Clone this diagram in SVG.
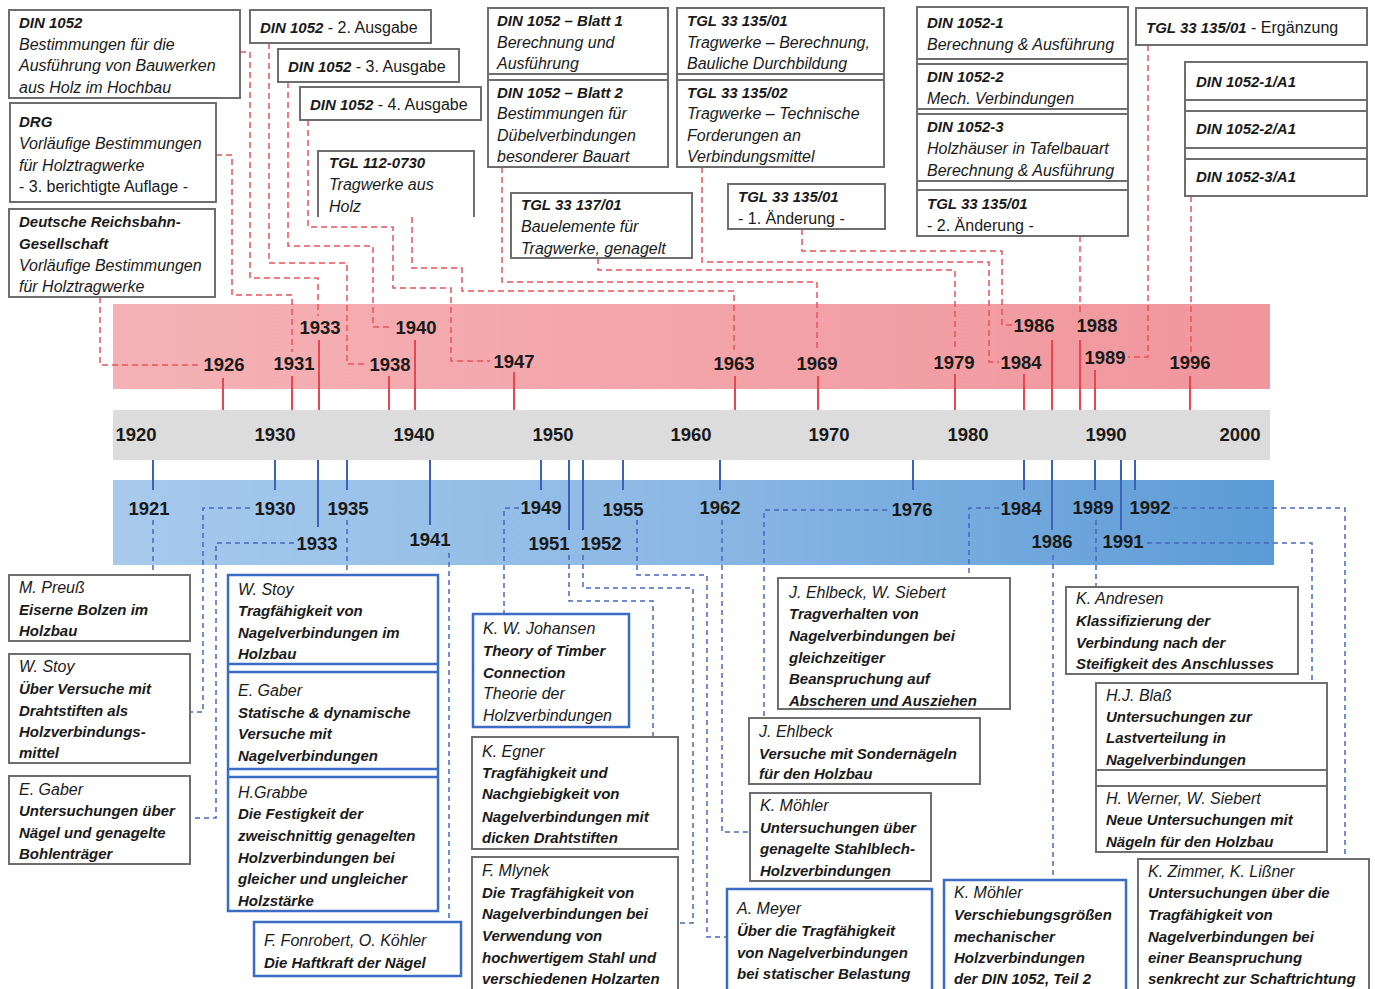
<svg xmlns="http://www.w3.org/2000/svg" width="1375" height="989" viewBox="0 0 1375 989">
<style>
text{font-family:"Liberation Sans",Arial,sans-serif;fill:#1a1a1a}
.box{fill:#fff;stroke:#6e6e6e;stroke-width:2}
.bbox{fill:#fff;stroke:#3a6cc6;stroke-width:2.5}
.div{stroke:#6e6e6e;stroke-width:2}
.bdiv{stroke:#3a6cc6;stroke-width:2.5}
.t{font-size:15px;font-weight:bold;font-style:italic}
.d{font-size:16px;font-style:italic}
.r{font-size:16px;font-style:normal;font-weight:normal}
.yr{font-size:18.5px;font-weight:bold;text-anchor:middle}
.rt{stroke:#e8474f;stroke-width:2}
.bt{stroke:#3b62b8;stroke-width:2}
.rc{fill:none;stroke:#e8535a;stroke-width:1.5;stroke-dasharray:6 4}
.bc{fill:none;stroke:#4568c0;stroke-width:1.5;stroke-dasharray:5 4}
</style>
<defs>
<linearGradient id="gRed" x1="0" x2="1" y1="0" y2="0"><stop offset="0" stop-color="#f5b2b6"/><stop offset="1" stop-color="#f0969c"/></linearGradient>
<linearGradient id="gBlue" x1="0" x2="1" y1="0" y2="0"><stop offset="0" stop-color="#a7caec"/><stop offset="0.5" stop-color="#8bb8e4"/><stop offset="1" stop-color="#5c9bd6"/></linearGradient>
</defs>
<rect width="1375" height="989" fill="#fff"/>
<g id="bands">
<rect x="113" y="304" width="1157" height="85" fill="url(#gRed)"/>
<rect x="113" y="410" width="1157" height="50" fill="#dcdcdc"/>
<rect x="113" y="480" width="1161" height="85" fill="url(#gBlue)"/>
</g>
<g id="ticks">
<path class="rt" d="M223,378V410M292,376V410M319,340V410M389,376V410M415,340V410M514,372V410M735,376V410M818,376V410M955,374V410M1024,374V410M1052,340V410M1080,340V410M1095,370V410M1190,376V410"/>
<path class="bt" d="M153,460V490M275,460V490M318,460V527M347,460V490M430,460V525M541,460V490M569,460V530M583,460V530M623,460V490M720,460V490M913,460V490M1024,460V490M1052,460V530M1095,460V490M1121,460V530M1135,460V490"/>
</g>
<g id="connectors">
<path class="rc" d="M100,297V365H200"/>
<path class="rc" d="M216,155H232V295H292V352"/>
<path class="rc" d="M240,52H250V278H318V316"/>
<path class="rc" d="M269,43V263H347V364H367"/>
<path class="rc" d="M288,82V246H373V327H393"/>
<path class="rc" d="M308,120V227H393V288H451V361H490"/>
<path class="rc" d="M412,217V268H462V291H734V350"/>
<path class="rc" d="M502,167V282H817V350"/>
<path class="rc" d="M598,258V270H955V350"/>
<path class="rc" d="M702,167V262H989V362H999"/>
<path class="rc" d="M802,229V251H1002V325H1013"/>
<path class="rc" d="M1080,236V316"/>
<path class="rc" d="M1148,45V357H1128"/>
<path class="rc" d="M1191,196V352"/>
<path class="bc" d="M153,520V575"/>
<path class="bc" d="M250,508H203V712H190"/>
<path class="bc" d="M294,543H216V818H190"/>
<path class="bc" d="M347,520V575"/>
<path class="bc" d="M449,553V922"/>
<path class="bc" d="M519,508H504V614"/>
<path class="bc" d="M569,555V601H653V737"/>
<path class="bc" d="M583,555V588H693V923H678"/>
<path class="bc" d="M637,520V575H707V937H727"/>
<path class="bc" d="M722,520V832H750"/>
<path class="bc" d="M887,510H764V718"/>
<path class="bc" d="M999,508H969V578"/>
<path class="bc" d="M1053,555V880"/>
<path class="bc" d="M1096,520V587"/>
<path class="bc" d="M1147,543H1312V683"/>
<path class="bc" d="M1173,508H1345V859"/>
</g>
<g id="year-labels">
<text class="yr" x="320" y="334">1933</text><text class="yr" x="416" y="334">1940</text><text class="yr" x="1034" y="332">1986</text><text class="yr" x="1097" y="332">1988</text>
<text class="yr" x="224" y="371">1926</text><text class="yr" x="294" y="370">1931</text><text class="yr" x="390" y="371">1938</text><text class="yr" x="514" y="368">1947</text><text class="yr" x="734" y="370">1963</text><text class="yr" x="817" y="370">1969</text><text class="yr" x="954" y="369">1979</text><text class="yr" x="1021" y="369">1984</text><text class="yr" x="1105" y="364">1989</text><text class="yr" x="1190" y="369">1996</text>
<text class="yr" x="136" y="441">1920</text><text class="yr" x="275" y="441">1930</text><text class="yr" x="414" y="441">1940</text><text class="yr" x="553" y="441">1950</text><text class="yr" x="691" y="441">1960</text><text class="yr" x="829" y="441">1970</text><text class="yr" x="968" y="441">1980</text><text class="yr" x="1106" y="441">1990</text><text class="yr" x="1240" y="441">2000</text>
<text class="yr" x="149" y="515">1921</text><text class="yr" x="275" y="515">1930</text><text class="yr" x="348" y="515">1935</text><text class="yr" x="541" y="514">1949</text><text class="yr" x="623" y="516">1955</text><text class="yr" x="720" y="514">1962</text><text class="yr" x="912" y="516">1976</text><text class="yr" x="1021" y="515">1984</text><text class="yr" x="1093" y="514">1989</text><text class="yr" x="1150" y="514">1992</text>
<text class="yr" x="317" y="550">1933</text><text class="yr" x="430" y="546">1941</text><text class="yr" x="549" y="550">1951</text><text class="yr" x="601" y="550">1952</text><text class="yr" x="1052" y="548">1986</text><text class="yr" x="1123" y="548">1991</text>
</g>
<g id="n-din1052">
<rect class="box" x="9" y="10" width="231" height="88"/>
<text class="t" x="19" y="28">DIN 1052</text><text class="d" x="19" y="50">Bestimmungen für die</text><text class="d" x="19" y="71">Ausführung von Bauwerken</text><text class="d" x="19" y="93">aus Holz im Hochbau</text>
</g>
<g id="n-din1052-2">
<rect class="box" x="250" y="10" width="181" height="33"/>
<text x="260" y="33"><tspan class="t">DIN 1052</tspan><tspan class="r"> - 2. Ausgabe</tspan></text>
</g>
<g id="n-din1052-3">
<rect class="box" x="278" y="49" width="181" height="33"/>
<text x="288" y="72"><tspan class="t">DIN 1052</tspan><tspan class="r"> - 3. Ausgabe</tspan></text>
</g>
<g id="n-din1052-4">
<rect class="box" x="300" y="87" width="181" height="33"/>
<text x="310" y="110"><tspan class="t">DIN 1052</tspan><tspan class="r"> - 4. Ausgabe</tspan></text>
</g>
<g id="n-drg">
<rect class="box" x="10" y="103" width="206" height="99"/>
<text class="t" x="19" y="127">DRG</text><text class="d" x="19" y="149">Vorläufige Bestimmungen</text><text class="d" x="19" y="171">für Holztragwerke</text><text class="r" x="19" y="192">- 3. berichtigte Auflage -</text>
</g>
<g id="n-drg-1926">
<rect class="box" x="9" y="209" width="206" height="88"/>
<text class="t" x="19" y="227">Deutsche Reichsbahn-</text><text class="t" x="19" y="249">Gesellschaft</text><text class="d" x="19" y="271">Vorläufige Bestimmungen</text><text class="d" x="19" y="292">für Holztragwerke</text>
</g>
<g id="n-tgl112">
<path class="box" d="M318,217V151H474V217"/>
<text class="t" x="329" y="168">TGL 112-0730</text><text class="d" x="329" y="190">Tragwerke aus</text><text class="d" x="329" y="212">Holz</text>
</g>
<g id="n-blatt">
<rect class="box" x="488" y="8" width="180" height="159"/>
<path class="div" d="M488,74H668M488,80H668"/>
<text class="t" x="497" y="26">DIN 1052 – Blatt 1</text><text class="d" x="497" y="48">Berechnung und</text><text class="d" x="497" y="69">Ausführung</text>
<text class="t" x="497" y="98">DIN 1052 – Blatt 2</text><text class="d" x="497" y="119">Bestimmungen für</text><text class="d" x="497" y="141">Dübelverbindungen</text><text class="d" x="497" y="162">besonderer Bauart</text>
</g>
<g id="n-tgl33135">
<rect class="box" x="677" y="8" width="207" height="159"/>
<path class="div" d="M677,74H884M677,80H884"/>
<text class="t" x="687" y="26">TGL 33 135/01</text><text class="d" x="687" y="48">Tragwerke – Berechnung,</text><text class="d" x="687" y="69">Bauliche Durchbildung</text>
<text class="t" x="687" y="98">TGL 33 135/02</text><text class="d" x="687" y="119">Tragwerke – Technische</text><text class="d" x="687" y="141">Forderungen an</text><text class="d" x="687" y="162">Verbindungsmittel</text>
</g>
<g id="n-tgl33137">
<rect class="box" x="511" y="193" width="181" height="65"/>
<text class="t" x="521" y="210">TGL 33 137/01</text><text class="d" x="521" y="232">Bauelemente für</text><text class="d" x="521" y="254">Tragwerke, genagelt</text>
</g>
<g id="n-tgl-aend1">
<rect class="box" x="728" y="184" width="157" height="45"/>
<text class="t" x="738" y="202">TGL 33 135/01</text><text class="r" x="738" y="224">- 1. Änderung -</text>
</g>
<g id="n-din1052-1988">
<rect class="box" x="917" y="7" width="211" height="229"/>
<path class="div" d="M917,59H1128M917,64H1128M917,109H1128M917,114H1128M917,181H1128M917,190H1128"/>
<text class="t" x="927" y="28">DIN 1052-1</text><text class="d" x="927" y="50">Berechnung &amp; Ausführung</text>
<text class="t" x="927" y="82">DIN 1052-2</text><text class="d" x="927" y="104">Mech. Verbindungen</text>
<text class="t" x="927" y="132">DIN 1052-3</text><text class="d" x="927" y="154">Holzhäuser in Tafelbauart</text><text class="d" x="927" y="176">Berechnung &amp; Ausführung</text>
<text class="t" x="927" y="209">TGL 33 135/01</text><text class="r" x="927" y="231">- 2. Änderung -</text>
</g>
<g id="n-tgl-erg">
<rect class="box" x="1136" y="8" width="231" height="37"/>
<text x="1146" y="33"><tspan class="t">TGL 33 135/01</tspan><tspan class="r"> - Ergänzung</tspan></text>
</g>
<g id="n-din-a1">
<rect class="box" x="1185" y="62" width="182" height="134"/>
<path class="div" d="M1185,100H1367M1185,111H1367M1185,148H1367M1185,159H1367"/>
<text class="t" x="1196" y="87">DIN 1052-1/A1</text><text class="t" x="1196" y="134">DIN 1052-2/A1</text><text class="t" x="1196" y="182">DIN 1052-3/A1</text>
</g>
<g id="n-preuss">
<rect class="box" x="9" y="575" width="181" height="66"/>
<text class="d" x="19" y="593">M. Preuß</text><text class="t" x="19" y="615">Eiserne Bolzen im</text><text class="t" x="19" y="636">Holzbau</text>
</g>
<g id="n-stoy1930">
<rect class="box" x="9" y="654" width="181" height="109"/>
<text class="d" x="19" y="672">W. Stoy</text><text class="t" x="19" y="694">Über Versuche mit</text><text class="t" x="19" y="716">Drahtstiften als</text><text class="t" x="19" y="737">Holzverbindungs-</text><text class="t" x="19" y="758">mittel</text>
</g>
<g id="n-gaber1933">
<rect class="box" x="9" y="776" width="181" height="88"/>
<text class="d" x="19" y="795">E. Gaber</text><text class="t" x="19" y="816">Untersuchungen über</text><text class="t" x="19" y="838">Nägel und genagelte</text><text class="t" x="19" y="859">Bohlenträger</text>
</g>
<g id="n-stack1935">
<rect class="bbox" x="228" y="575" width="210" height="336"/>
<path class="bdiv" d="M228,664H438M228,672H438M228,769H438M228,777H438"/>
<text class="d" x="238" y="595">W. Stoy</text><text class="t" x="238" y="616">Tragfähigkeit von</text><text class="t" x="238" y="638">Nagelverbindungen im</text><text class="t" x="238" y="659">Holzbau</text>
<text class="d" x="238" y="696">E. Gaber</text><text class="t" x="238" y="718">Statische &amp; dynamische</text><text class="t" x="238" y="739">Versuche mit</text><text class="t" x="238" y="761">Nagelverbindungen</text>
<text class="d" x="238" y="798">H.Grabbe</text><text class="t" x="238" y="819">Die Festigkeit der</text><text class="t" x="238" y="841">zweischnittig genagelten</text><text class="t" x="238" y="863">Holzverbindungen bei</text><text class="t" x="238" y="884">gleicher und ungleicher</text><text class="t" x="238" y="906">Holzstärke</text>
</g>
<g id="n-fonrobert">
<rect class="bbox" x="254" y="922" width="207" height="54"/>
<text class="d" x="264" y="946">F. Fonrobert, O. Köhler</text><text class="t" x="264" y="968">Die Haftkraft der Nägel</text>
</g>
<g id="n-johansen">
<rect class="bbox" x="473" y="614" width="156" height="113"/>
<text class="d" x="483" y="634">K. W. Johansen</text><text class="t" x="483" y="656">Theory of Timber</text><text class="t" x="483" y="678">Connection</text><text class="d" x="483" y="699">Theorie der</text><text class="d" x="483" y="721">Holzverbindungen</text>
</g>
<g id="n-egner">
<rect class="box" x="472" y="737" width="206" height="112"/>
<text class="d" x="482" y="757">K. Egner</text><text class="t" x="482" y="778">Tragfähigkeit und</text><text class="t" x="482" y="799">Nachgiebigkeit von</text><text class="t" x="482" y="822">Nagelverbindungen mit</text><text class="t" x="482" y="843">dicken Drahtstiften</text>
</g>
<g id="n-mlynek">
<rect class="box" x="472" y="857" width="206" height="140"/>
<text class="d" x="482" y="876">F. Mlynek</text><text class="t" x="482" y="898">Die Tragfähigkeit von</text><text class="t" x="482" y="919">Nagelverbindungen bei</text><text class="t" x="482" y="941">Verwendung von</text><text class="t" x="482" y="963">hochwertigem Stahl und</text><text class="t" x="482" y="984">verschiedenen Holzarten</text>
</g>
<g id="n-ehlbeck-siebert">
<rect class="box" x="778" y="578" width="232" height="131"/>
<text class="d" x="789" y="598">J. Ehlbeck, W. Siebert</text><text class="t" x="789" y="619">Tragverhalten von</text><text class="t" x="789" y="641">Nagelverbindungen bei</text><text class="t" x="789" y="663">gleichzeitiger</text><text class="t" x="789" y="684">Beanspruchung auf</text><text class="t" x="789" y="706">Abscheren und Ausziehen</text>
</g>
<g id="n-ehlbeck">
<rect class="box" x="749" y="718" width="231" height="66"/>
<text class="d" x="759" y="737">J. Ehlbeck</text><text class="t" x="759" y="759">Versuche mit Sondernägeln</text><text class="t" x="759" y="779">für den Holzbau</text>
</g>
<g id="n-moehler1962">
<rect class="box" x="750" y="793" width="181" height="88"/>
<text class="d" x="760" y="811">K. Möhler</text><text class="t" x="760" y="833">Untersuchungen über</text><text class="t" x="760" y="854">genagelte Stahlblech-</text><text class="t" x="760" y="876">Holzverbindungen</text>
</g>
<g id="n-meyer">
<rect class="bbox" x="727" y="889" width="205" height="110"/>
<text class="d" x="737" y="914">A. Meyer</text><text class="t" x="737" y="936">Über die Tragfähigkeit</text><text class="t" x="737" y="958">von Nagelverbindungen</text><text class="t" x="737" y="979">bei statischer Belastung</text>
</g>
<g id="n-moehler1986">
<rect class="bbox" x="944" y="880" width="182" height="120"/>
<text class="d" x="954" y="898">K. Möhler</text><text class="t" x="954" y="920">Verschiebungsgrößen</text><text class="t" x="954" y="942">mechanischer</text><text class="t" x="954" y="963">Holzverbindungen</text><text class="t" x="954" y="984">der DIN 1052, Teil 2</text>
</g>
<g id="n-andresen">
<rect class="box" x="1066" y="587" width="232" height="87"/>
<text class="d" x="1076" y="604">K. Andresen</text><text class="t" x="1076" y="626">Klassifizierung der</text><text class="t" x="1076" y="648">Verbindung nach der</text><text class="t" x="1076" y="669">Steifigkeit des Anschlusses</text>
</g>
<g id="n-blass-werner">
<rect class="box" x="1096" y="683" width="231" height="169"/>
<path class="div" d="M1096,770H1327M1096,786H1327"/>
<text class="d" x="1106" y="701">H.J. Blaß</text><text class="t" x="1106" y="722">Untersuchungen zur</text><text class="t" x="1106" y="743">Lastverteilung in</text><text class="t" x="1106" y="765">Nagelverbindungen</text>
<text class="d" x="1106" y="804">H. Werner, W. Siebert</text><text class="t" x="1106" y="825">Neue Untersuchungen mit</text><text class="t" x="1106" y="847">Nägeln für den Holzbau</text>
</g>
<g id="n-zimmer">
<rect class="box" x="1138" y="859" width="231" height="140"/>
<text class="d" x="1148" y="877">K. Zimmer, K. Lißner</text><text class="t" x="1148" y="898">Untersuchungen über die</text><text class="t" x="1148" y="920">Tragfähigkeit von</text><text class="t" x="1148" y="942">Nagelverbindungen bei</text><text class="t" x="1148" y="963">einer Beanspruchung</text><text class="t" x="1148" y="984">senkrecht zur Schaftrichtung</text>
</g>
</svg>
